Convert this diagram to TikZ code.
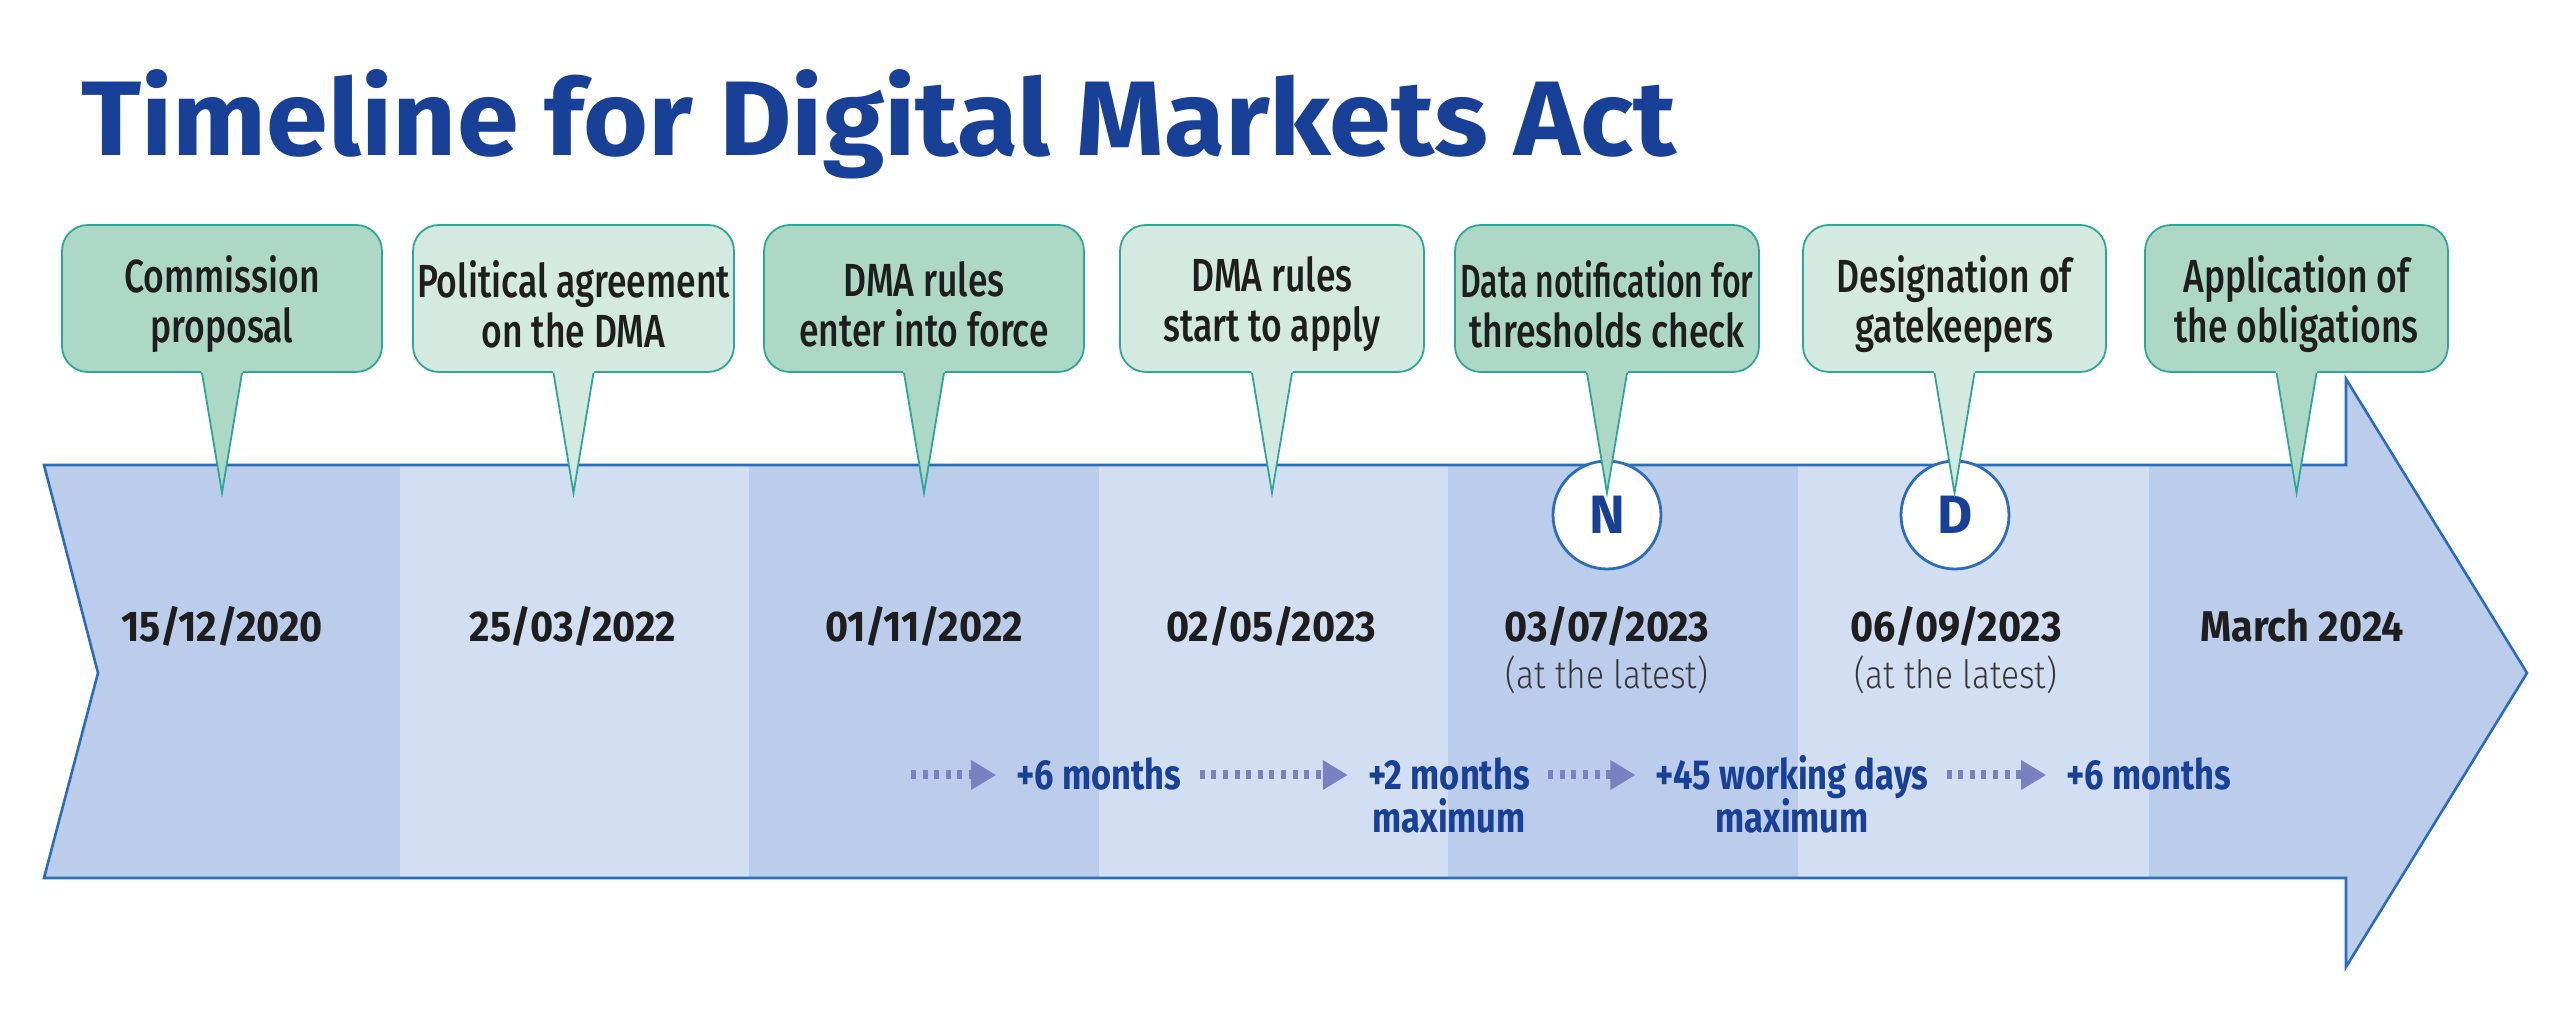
\documentclass[tikz,border=0pt]{standalone}
\usepackage{fontspec}
\usetikzlibrary{arrows.meta,calc}
\setmainfont{Fira Sans}
\newfontfamily\titlefont{Fira Sans}[FakeStretch=1.05]
\IfFontExistsTF{Fira Sans Medium}
  {\newfontfamily\bubblefont{Fira Sans Medium}[FakeStretch=0.765]
   \newfontfamily\tightfont{Fira Sans Medium}[FakeStretch=0.69]}
  {\newfontfamily\bubblefont{Fira Sans}[FakeStretch=0.765,FakeBold=1.2]
   \newfontfamily\tightfont{Fira Sans}[FakeStretch=0.69,FakeBold=1.2]}
\newfontfamily\datefont{Fira Sans}[FakeStretch=0.92]
\IfFontExistsTF{Fira Sans Light}
  {\newfontfamily\notefont{Fira Sans Light}[FakeStretch=0.86]}
  {\newfontfamily\notefont{Fira Sans}[FakeStretch=0.84]}
\newfontfamily\labelfont{Fira Sans}[FakeStretch=0.82]

\definecolor{titleblue}{RGB}{23,64,150}
\definecolor{banddark}{RGB}{188,205,235}
\definecolor{bandlight}{RGB}{210,222,241}
\definecolor{arrowline}{RGB}{42,110,187}
\definecolor{bubbledark}{RGB}{174,216,198}
\definecolor{bubblelight}{RGB}{212,233,223}
\definecolor{bubbleline}{RGB}{45,168,152}
\definecolor{dotblue}{RGB}{122,129,192}
\definecolor{textdark}{RGB}{30,30,30}
\definecolor{notegray}{RGB}{55,55,55}

\tikzset{
  bubblebox/.style={rectangle, rounded corners=13pt, draw=bubbleline, line width=0.9pt,
    minimum height=73.5pt, inner sep=0pt},
  bubbletext/.style={inner sep=0pt, align=center, text=textdark,
    font=\bubblefont\fontsize{23.2}{25}\selectfont},
  tailline/.style={draw=bubbleline, line width=0.9pt, line join=miter},
  marker/.style={circle, draw=arrowline, fill=white, line width=1.4pt, minimum size=54pt,
    inner sep=0pt, text=titleblue, font=\bfseries\fontsize{27}{30}\selectfont},
  datelbl/.style={anchor=base, inner sep=0pt, text=textdark,
    font=\datefont\bfseries\fontsize{21.5}{24}\selectfont},
  notelbl/.style={anchor=base, inner sep=0pt, text=notegray,
    font=\notefont\fontsize{19.5}{22}\selectfont},
  steplbl/.style={anchor=base, inner sep=0pt, text=titleblue, text height=15pt, text depth=0pt,
    font=\labelfont\bfseries\fontsize{21}{24}\selectfont},
  dotarrow/.style={draw=dotblue, line width=4.5pt, dash pattern=on 2.5pt off 3.3pt,
    -{Triangle[length=12.5pt,width=14pt]}, shorten >=10pt, shorten <=9pt},
}

\newcommand{\dmabubble}[5]{%
  \node[bubblebox, fill=#4, minimum width=#3] (#1) at (#2,298.5) {};
  \node[bubbletext] (#1t) at ($(#1.center)+(0,6)$) {#5};
  \coordinate (#1tip) at ($(#1.south)+(0,120)$);
  \fill[#4] ($(#1.south)+(-21,-3)$) -- (#1tip) -- ($(#1.south)+(21,-3)$) -- cycle;
  \draw[tailline] ($(#1.south)+(-20,0)$) -- (#1tip) -- ($(#1.south)+(20,0)$);
}

\begin{document}
\begin{tikzpicture}[x=0.5pt,y=-0.5pt]
\useasboundingbox (0,0) rectangle (2560,1036);
\fill[white] (0,0) rectangle (2560,1036);

% title
\node[anchor=base west, inner sep=0pt, text=titleblue,
  font=\titlefont\bfseries\fontsize{53}{60}\selectfont] (title) at (81,156)
  {Timeline for Digital Markets Act};

% arrow body with bands
\begin{scope}
  \clip (44,465) -- (2346,465) -- (2346,379) -- (2527,673) -- (2346,967)
        -- (2346,878) -- (44,878) -- (98,673) -- cycle;
  \fill[banddark]  (0,370)    rectangle (400,980);
  \fill[bandlight] (400,370)  rectangle (749,980);
  \fill[banddark]  (749,370)  rectangle (1099,980);
  \fill[bandlight] (1099,370) rectangle (1448,980);
  \fill[banddark]  (1448,370) rectangle (1798,980);
  \fill[bandlight] (1798,370) rectangle (2149,980);
  \fill[banddark]  (2149,370) rectangle (2560,980);
\end{scope}
\draw[arrowline, line width=1.3pt, line join=miter]
  (44,465) -- (2346,465) -- (2346,379) -- (2527,673) -- (2346,967)
  -- (2346,878) -- (44,878) -- (98,673) -- cycle;

% markers
\node[marker] (N) at (1607,515) {N};
\node[marker] (D) at (1955,515) {D};

% bubbles
\dmabubble{b1}{222}{160pt}{bubbledark}{Commission\\proposal}
\dmabubble{b2}{573.5}{160.5pt}{bubblelight}{Political agreement\\on the DMA}
\dmabubble{b3}{924}{160pt}{bubbledark}{DMA rules\\enter into force}
\dmabubble{b4}{1272}{152pt}{bubblelight}{DMA rules\\start to apply}
\dmabubble{b5}{1607}{152pt}{bubbledark}{{\tightfont Data notification for}\\thresholds check}
\dmabubble{b6}{1954.5}{151.5pt}{bubblelight}{Designation of\\gatekeepers}
\dmabubble{b7}{2296.5}{151.5pt}{bubbledark}{Application of\\the obligations}

% dates
\node[datelbl] (d1) at (222,642) {15/12/2020};
\node[datelbl] (d2) at (573,642) {25/03/2022};
\node[datelbl] (d3) at (924,642) {01/11/2022};
\node[datelbl] (d4) at (1271,642) {02/05/2023};
\node[datelbl] (d5) at (1607,642) {03/07/2023};
\node[datelbl] (d6) at (1956,642) {06/09/2023};
\node[datelbl] (d7) at (2302,642) {March 2024};
\node[notelbl] (n5) at (1607,689) {(at the latest)};
\node[notelbl] (n6) at (1956,689) {(at the latest)};

% durations
\node[steplbl] (s1) at (1099,790) {+6 months};
\node[steplbl] (s2) at (1449,790) {+2 months};
\node[steplbl] (s2b) at (1449,833) {maximum};
\node[steplbl] (s3) at (1792,790) {+45 working days};
\node[steplbl] (s3b) at (1792,833) {maximum};
\node[steplbl] (s4) at (2149,790) {+6 months};
\coordinate (s0) at (911,775);
\draw[dotarrow, shorten <=0pt] (s0) -- (s1.west);
\draw[dotarrow] (s1.east) -- (s2.west);
\draw[dotarrow] (s2.east) -- (s3.west);
\draw[dotarrow] (s3.east) -- (s4.west);
\end{tikzpicture}
\end{document}
